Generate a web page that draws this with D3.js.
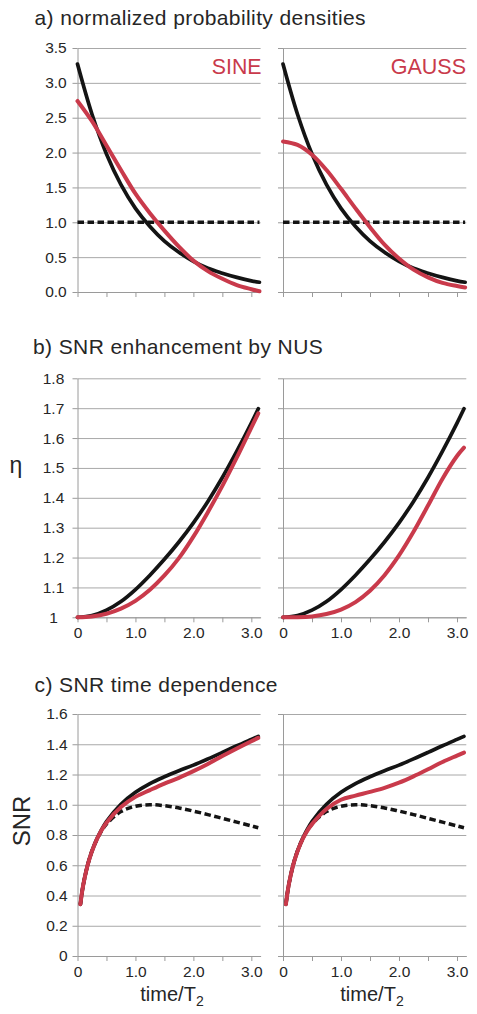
<!DOCTYPE html>
<html><head><meta charset="utf-8">
<script src="https://cdn.jsdelivr.net/npm/d3@7"></script>
<style>
html,body{margin:0;padding:0;background:#fff;}
svg{display:block;font-family:"Liberation Sans",Arial,Helvetica,sans-serif;}
</style></head><body>
<svg id="chart" width="477" height="1014"></svg>
<script>
// ---------------- DATA ----------------
// x tick values (time/T2) and labels
const xTickValues = [0, 0.5, 1, 1.5, 2, 2.5, 3];
const xTickLabels = ["0", "", "1.0", "", "2.0", "", "3.0"];

// a) normalized probability densities
const aTicks = [0, 0.5, 1, 1.5, 2, 2.5, 3, 3.5];
const aTickLabels = ["0.0", "0.5", "1.0", "1.5", "2.0", "2.5", "3.0", "3.5"];
const tA = [0, 0.25, 0.5, 0.75, 1, 1.25, 1.5, 1.75, 2, 2.25, 2.5, 2.75, 3, 3.14];
const aExpBlack = [3.27, 2.55, 1.98, 1.54, 1.20, 0.94, 0.73, 0.57, 0.44, 0.34, 0.27, 0.21, 0.16, 0.14];
const aSineRed  = [2.74, 2.45, 2.10, 1.75, 1.41, 1.13, 0.88, 0.65, 0.45, 0.30, 0.19, 0.10, 0.04, 0.01];
const aGaussRed = [2.16, 2.11, 1.97, 1.75, 1.48, 1.20, 0.93, 0.68, 0.48, 0.32, 0.21, 0.13, 0.085, 0.065];
const tUniformA = [0, 3.14];
const aUniform  = [1.0, 1.0];

// b) SNR enhancement by NUS (eta)
const bTicks = [1, 1.1, 1.2, 1.3, 1.4, 1.5, 1.6, 1.7, 1.8];
const bTickLabels = ["1", "1.1", "1.2", "1.3", "1.4", "1.5", "1.6", "1.7", "1.8"];
const tB = [0, 0.25, 0.5, 0.75, 1, 1.25, 1.5, 1.75, 2, 2.25, 2.5, 2.75, 3, 3.12];
const bExpBlack = [1.0, 1.006, 1.024, 1.053, 1.093, 1.141, 1.194, 1.252, 1.316, 1.388, 1.468, 1.556, 1.650, 1.698];
const bSineRed  = [1.0, 1.003, 1.012, 1.029, 1.055, 1.092, 1.140, 1.198, 1.270, 1.352, 1.440, 1.535, 1.635, 1.683];
const bGaussRed = [1.0, 1.0, 1.003, 1.011, 1.026, 1.051, 1.089, 1.141, 1.207, 1.286, 1.374, 1.464, 1.540, 1.568];

// c) SNR time dependence
const cTicks = [0, 0.2, 0.4, 0.6, 0.8, 1.0, 1.2, 1.4, 1.6];
const cTickLabels = ["0", "0.2", "0.4", "0.6", "0.8", "1.0", "1.2", "1.4", "1.6"];
const tC = [0.05, 0.1, 0.2, 0.3, 0.4, 0.5, 0.75, 1, 1.25, 1.5, 1.75, 2, 2.25, 2.5, 2.75, 3, 3.12];
const cUniform  = [0.342, 0.472, 0.635, 0.741, 0.817, 0.872, 0.955, 0.990, 1.000, 0.994, 0.979, 0.958, 0.935, 0.910, 0.885, 0.860, 0.848];
const cExpBlack = [0.342, 0.472, 0.636, 0.744, 0.824, 0.889, 1.003, 1.082, 1.140, 1.185, 1.225, 1.262, 1.303, 1.346, 1.390, 1.432, 1.452];
const cSineRed  = [0.342, 0.472, 0.635, 0.742, 0.821, 0.881, 0.985, 1.052, 1.097, 1.140, 1.178, 1.222, 1.270, 1.322, 1.372, 1.420, 1.442];
const cGaussRed = [0.342, 0.472, 0.635, 0.741, 0.817, 0.872, 0.972, 1.033, 1.060, 1.085, 1.112, 1.146, 1.188, 1.235, 1.283, 1.325, 1.345];

// ---------------- LAYOUT / STYLE ----------------
const RED = "#c93a4b", BLACK = "#141414", GRID = "#a8a8a8", AXIS = "#9a9a9a", TEXT = "#262626";
const svg = d3.select("#chart");
const cols = [{x0: 77.5, x1: 260.6}, {x0: 283, x1: 466.3}];
const xDomain = [0, 3.16];

function zip(t, v) { return t.map((d, i) => ({t: d, v: v[i]})); }

function panel(col, row, showYLabels, showXLabels, series) {
  const x = d3.scaleLinear().domain(xDomain).range([col.x0, col.x1]);
  const y = d3.scaleLinear().domain(row.domain).range([row.bottom, row.top]);
  const g = svg.append("g");

  // grid lines
  g.append("g").attr("transform", `translate(${col.x0},0)`)
    .call(d3.axisLeft(y).tickValues(row.ticks).tickSize(-(col.x1 - col.x0)).tickFormat(""))
    .call(s => s.select(".domain").remove())
    .call(s => s.selectAll("line").attr("stroke", GRID).attr("stroke-width", 1));

  // left axis
  const la = g.append("g").attr("transform", `translate(${col.x0},0)`)
    .call(d3.axisLeft(y).tickValues(row.ticks).tickSize(5).tickSizeOuter(0)
      .tickFormat((d, i) => showYLabels ? row.labels[i] : ""));
  la.select(".domain").attr("stroke", AXIS);
  la.selectAll("line").attr("stroke", AXIS);
  la.selectAll("text").attr("font-family", "Liberation Sans, Arial, sans-serif")
    .attr("font-size", 15.5).attr("fill", TEXT)
    .attr("x", row.labelX).attr("text-anchor", row.anchor);

  // bottom axis
  const ba = g.append("g").attr("transform", `translate(0,${row.bottom})`)
    .call(d3.axisBottom(x).tickValues(xTickValues).tickSize(5).tickSizeOuter(0).tickPadding(4.5)
      .tickFormat((d, i) => showXLabels ? xTickLabels[i] : ""));
  ba.select(".domain").attr("stroke", AXIS);
  ba.selectAll("line").attr("stroke", AXIS);
  ba.selectAll("text").attr("font-family", "Liberation Sans, Arial, sans-serif")
    .attr("font-size", 15.5).attr("fill", TEXT);

  // curves
  const line = d3.line().x(d => x(d.t)).y(d => y(d.v)).curve(d3.curveCatmullRom.alpha(0.5));
  series.forEach(s => {
    g.append("path").datum(zip(s.t, s.v))
      .attr("d", line).attr("fill", "none")
      .attr("stroke", s.color).attr("stroke-width", s.width)
      .attr("stroke-dasharray", s.dash || null)
      .attr("stroke-linecap", s.dash ? "butt" : "round");
  });
  return {x, y};
}

const rowA = {top: 48, bottom: 292, domain: [0, 3.5], ticks: aTicks, labels: aTickLabels, labelX: -10.8, anchor: "end"};
const rowB = {top: 378.3, bottom: 617.3, domain: [1, 1.8], ticks: bTicks, labels: bTickLabels, labelX: -24, anchor: "middle"};
const rowC = {top: 714, bottom: 956, domain: [0, 1.6], ticks: cTicks, labels: cTickLabels, labelX: -9.8, anchor: "end"};

const dashStyle = "6.5,3.5";
const BW = 3.7, RW = 4;

// a)
panel(cols[0], rowA, true, false, [
  {t: tUniformA, v: aUniform, color: BLACK, width: 3.5, dash: dashStyle},
  {t: tA, v: aExpBlack, color: BLACK, width: BW},
  {t: tA, v: aSineRed, color: RED, width: RW}
]);
panel(cols[1], rowA, false, false, [
  {t: tUniformA, v: aUniform, color: BLACK, width: 3.5, dash: dashStyle},
  {t: tA, v: aExpBlack, color: BLACK, width: BW},
  {t: tA, v: aGaussRed, color: RED, width: RW}
]);
// b)
panel(cols[0], rowB, true, true, [
  {t: tB, v: bExpBlack, color: BLACK, width: BW},
  {t: tB, v: bSineRed, color: RED, width: RW}
]);
panel(cols[1], rowB, false, true, [
  {t: tB, v: bExpBlack, color: BLACK, width: BW},
  {t: tB, v: bGaussRed, color: RED, width: RW}
]);
// c)
panel(cols[0], rowC, true, true, [
  {t: tC, v: cUniform, color: BLACK, width: 3.5, dash: dashStyle},
  {t: tC, v: cExpBlack, color: BLACK, width: BW},
  {t: tC, v: cSineRed, color: RED, width: RW}
]);
panel(cols[1], rowC, false, true, [
  {t: tC, v: cUniform, color: BLACK, width: 3.5, dash: dashStyle},
  {t: tC, v: cExpBlack, color: BLACK, width: BW},
  {t: tC, v: cGaussRed, color: RED, width: RW}
]);

// ---------------- TEXT ----------------
const titleStyle = s => s.attr("font-size", 21).attr("letter-spacing", 0.4).attr("fill", TEXT);
svg.append("text").attr("x", 34.5).attr("y", 25).text("a) normalized probability densities").call(titleStyle);
svg.append("text").attr("x", 33).attr("y", 354).text("b) SNR enhancement by NUS").call(titleStyle);
svg.append("text").attr("x", 34.5).attr("y", 691.5).text("c) SNR time dependence").call(titleStyle);

svg.append("text").attr("x", 261.5).attr("y", 74).attr("text-anchor", "end")
  .attr("font-size", 21.3).attr("fill", RED).text("SINE");
svg.append("text").attr("x", 466).attr("y", 74).attr("text-anchor", "end")
  .attr("font-size", 21.5).attr("fill", RED).text("GAUSS");

svg.append("text").attr("x", 16).attr("y", 473).attr("text-anchor", "middle")
  .attr("font-size", 23).attr("fill", TEXT).text("η");

svg.append("text").attr("transform", "translate(30,821) rotate(-90)").attr("text-anchor", "middle")
  .attr("font-size", 24).attr("fill", TEXT).text("SNR");

[172, 372].forEach(cx => {
  const t = svg.append("text").attr("x", cx).attr("y", 1000.5).attr("text-anchor", "middle")
    .attr("font-size", 20).attr("fill", TEXT);
  t.append("tspan").text("time/T");
  t.append("tspan").attr("font-size", 14).attr("dy", 5).text("2");
});
</script>
</body></html>
